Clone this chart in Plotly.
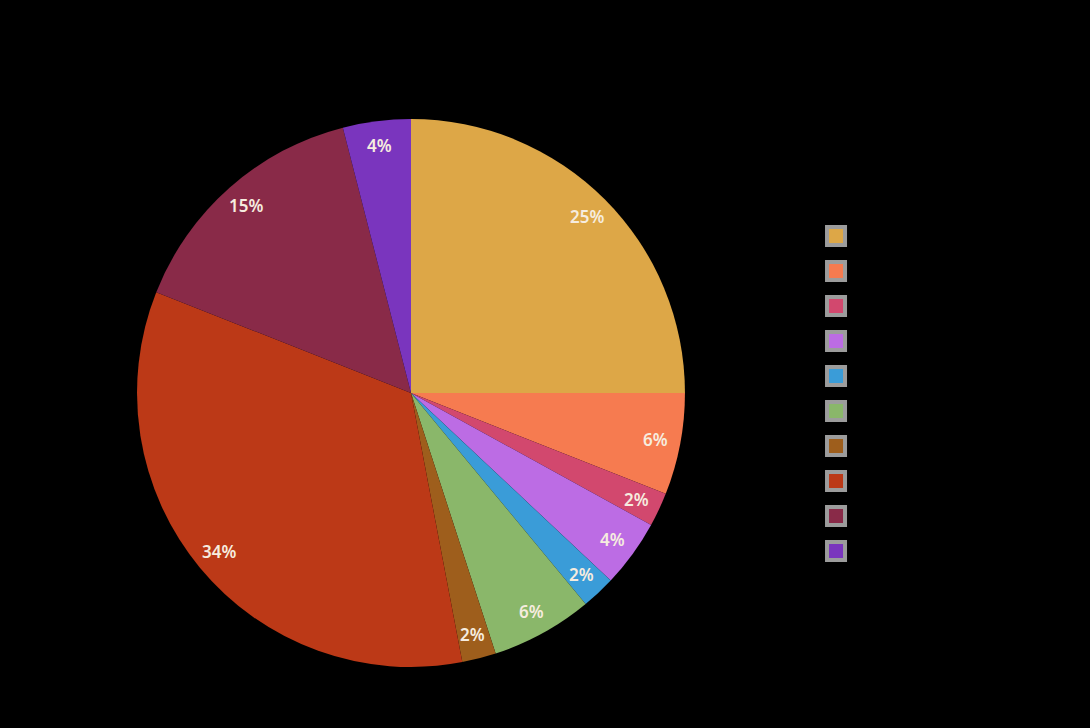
import numpy as np
import plotly.graph_objects as go

categories = ["Category 1", "Category 2", "Category 3", "Category 4", "Category 5",
              "Category 6", "Category 7", "Category 8", "Category 9", "Category 10"]
values = [25, 6, 2, 4, 2, 6, 2, 34, 15, 4]
colors = ["#DDA747", "#F67B50", "#D2486E", "#BC6CE4", "#3A9CD8",
          "#8AB76A", "#9E5E1C", "#BC3917", "#892A48", "#7A35BE"]

W, H = 1090, 728
pie_domain = dict(x=[0.1257, 0.6284], y=[1 - 667 / 728, 1 - 119 / 728])

vals = np.array(values, dtype=float)
pct = vals / vals.sum() * 100
mid = np.deg2rad((np.cumsum(vals) - vals / 2) / vals.sum() * 360)
labels_txt = [f"{p:.0f}%" for p in pct]

# label placement near the outer edge of each slice (derived from slice angles)
cx = sum(pie_domain["x"]) / 2
cy = sum(pie_domain["y"]) / 2
radius_px = min((pie_domain["x"][1] - pie_domain["x"][0]) * W,
                (pie_domain["y"][1] - pie_domain["y"][0]) * H) / 2
lab_r = 0.91 * radius_px

fig = go.Figure()
fig.add_trace(go.Pie(
    labels=categories, values=values, sort=False, direction="clockwise",
    marker=dict(colors=colors, line=dict(width=0)),
    textinfo="none", hoverinfo="label+percent", showlegend=False,
    domain=pie_domain,
))
fig.add_trace(go.Scatter(
    x=[0] * len(categories), y=list(range(len(categories))),
    mode="markers+text", text=categories, textposition="middle right",
    textfont=dict(family="Noto Sans", size=16, color="#000000"),
    marker=dict(symbol="square", size=18, color=colors,
                line=dict(color="#9C9C9C", width=4)),
    xaxis="x", yaxis="y", showlegend=False, cliponaxis=False, hoverinfo="skip",
))

annotations = []
for t, txt in zip(mid, labels_txt):
    annotations.append(dict(
        x=cx + lab_r * np.sin(t) / W, y=cy + lab_r * np.cos(t) / H,
        xref="paper", yref="paper", text=txt, showarrow=False,
        xanchor="center", yanchor="middle",
        font=dict(family="Noto Sans", size=17, weight=600, color="#F6ECDF"),
    ))

fig.update_layout(
    width=W, height=H,
    margin=dict(l=0, r=0, t=0, b=0),
    paper_bgcolor="#000000", plot_bgcolor="rgba(0,0,0,0)",
    xaxis=dict(domain=[0.767, 0.95], range=[0, 1], visible=False, fixedrange=True),
    yaxis=dict(domain=[1 - 551 / 728, 1 - 236 / 728], range=[9, 0], visible=False, fixedrange=True),
    annotations=annotations,
)

fig.write_html("out.html")
